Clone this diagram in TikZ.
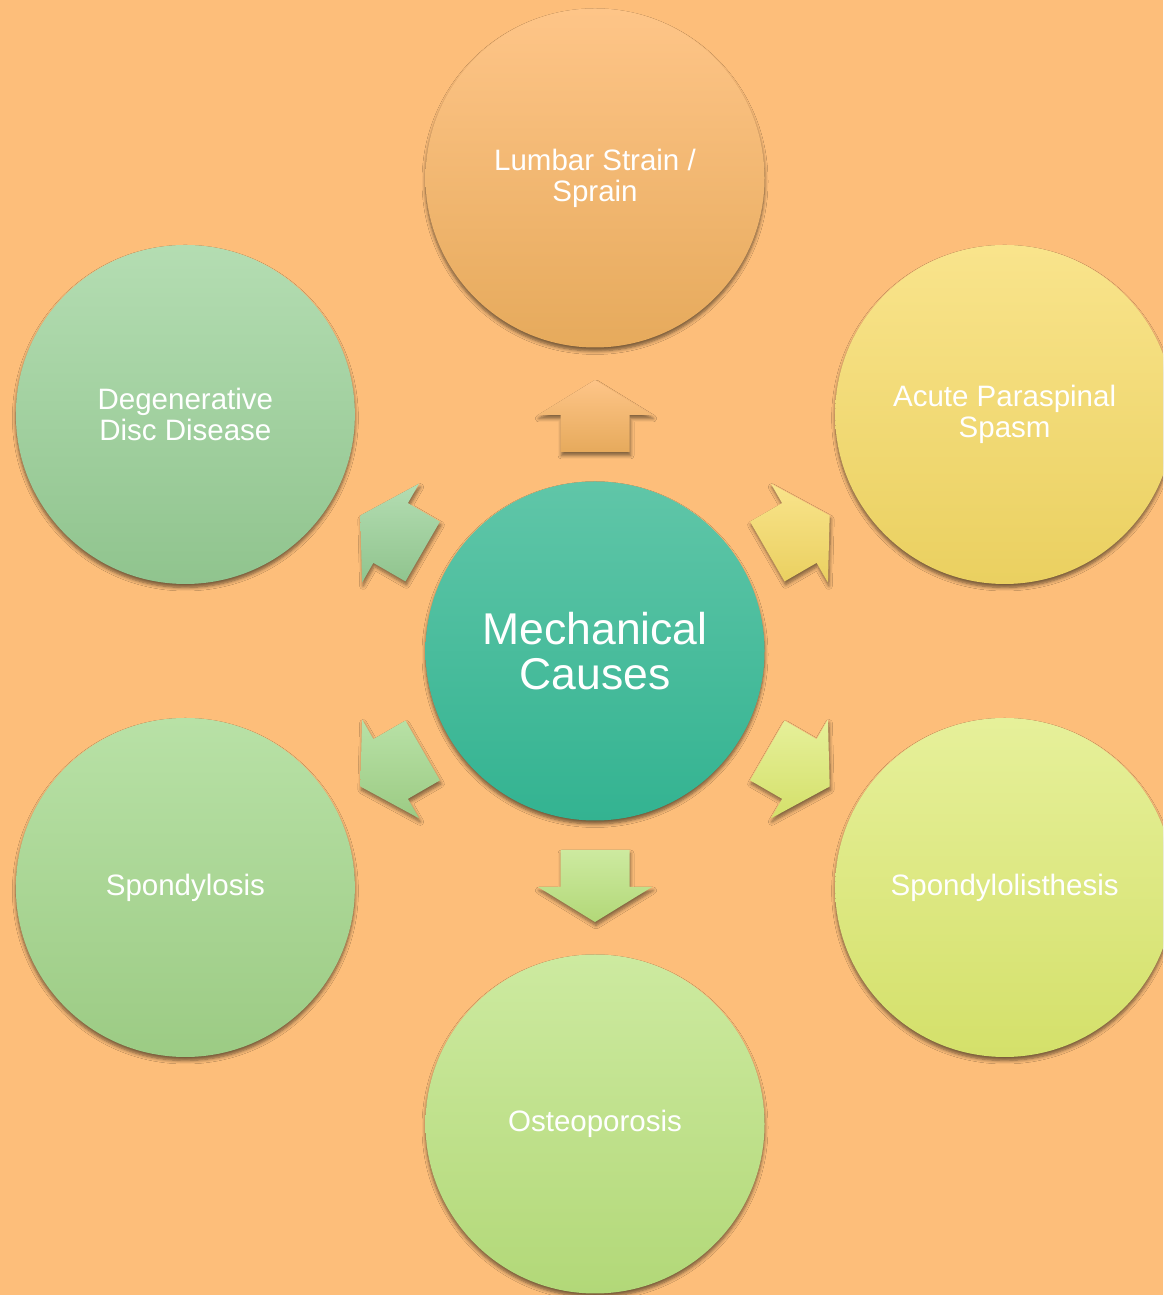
\documentclass[tikz,border=0pt]{standalone}
\usepackage{fontspec}
\setmainfont{Liberation Sans}
\usetikzlibrary{calc,shadows.blur}
\definecolor{bg}{RGB}{253,190,122}
\definecolor{orT}{RGB}{254,197,136}\definecolor{orB}{RGB}{230,170,92}
\definecolor{yeT}{RGB}{249,228,140}\definecolor{yeB}{RGB}{234,208,96}
\definecolor{liT}{RGB}{230,240,154}\definecolor{liB}{RGB}{212,224,106}
\definecolor{gbT}{RGB}{205,234,160}\definecolor{gbB}{RGB}{178,216,120}
\definecolor{glT}{RGB}{184,225,166}\definecolor{glB}{RGB}{156,203,132}
\definecolor{guT}{RGB}{180,221,178}\definecolor{guB}{RGB}{144,196,142}
\definecolor{teT}{RGB}{96,198,168}\definecolor{teB}{RGB}{51,179,145}
\newcommand\blockarrowshape[4]{%
  \path[arrowbox, top color=#3, bottom color=#4]
    ($(#1)+(#2:-36)+(#2+90:34.5)$) -- ($(#1)+(#2:1)+(#2+90:34.5)$) --
    ($(#1)+(#2:1)+(#2+90:57)$) -- ($(#1)+(#2:36)$) --
    ($(#1)+(#2:1)+(#2-90:57)$) -- ($(#1)+(#2:1)+(#2-90:34.5)$) --
    ($(#1)+(#2:-36)+(#2-90:34.5)$) -- cycle;}
\begin{document}
\begin{tikzpicture}[x=1pt,y=1pt,
  bubble/.style={circle, minimum size=339pt, inner sep=0pt, text=white, align=center,
    font=\fontsize{29.5}{31}\selectfont,
    blur shadow={shadow xshift=0pt, shadow yshift=-3.5pt, shadow blur radius=3.5pt, shadow blur steps=6, shadow opacity=55}},
  arrowbox/.style={blur shadow={shadow xshift=1pt, shadow yshift=-3.5pt, shadow blur radius=3.5pt, shadow blur steps=6, shadow opacity=50}}]
\useasboundingbox (0,0) rectangle (1163,1295);
\clip (0,0) rectangle (1163,1295);
\fill[bg] (0,0) rectangle (1163,1295);
\coordinate (o) at (595,644);
% outer bubbles
\node[bubble, top color=orT, bottom color=orB] (t) at ($(o)+(90:473)$) {Lumbar Strain /\\Sprain};
\node[bubble, top color=yeT, bottom color=yeB] (ur) at ($(o)+(30:473)$) {Acute Paraspinal\\Spasm};
\node[bubble, top color=liT, bottom color=liB] (lr) at ($(o)+(-30:473)$) {Spondylolisthesis};
\node[bubble, top color=gbT, bottom color=gbB] (b) at ($(o)+(-90:473)$) {Osteoporosis};
\node[bubble, top color=glT, bottom color=glB] (ll) at ($(o)+(210:473)$) {Spondylosis};
\node[bubble, top color=guT, bottom color=guB] (ul) at ($(o)+(150:473)$) {Degenerative\\Disc Disease};
% centre
\node[bubble, top color=teT, bottom color=teB, font=\fontsize{44.5}{45}\selectfont] (c) at (o) {Mechanical\\Causes};
% arrows
\coordinate (at) at ($(o)!235pt!(t)$);
\coordinate (aur) at ($(o)!235pt!(ur)$);
\coordinate (alr) at ($(o)!235pt!(lr)$);
\coordinate (ab) at ($(o)!235pt!(b)$);
\coordinate (all) at ($(o)!235pt!(ll)$);
\coordinate (aul) at ($(o)!235pt!(ul)$);
\blockarrowshape{at}{90}{orT}{orB}
\blockarrowshape{aur}{30}{yeT}{yeB}
\blockarrowshape{alr}{-30}{liT}{liB}
\blockarrowshape{ab}{-90}{gbT}{gbB}
\blockarrowshape{all}{210}{glT}{glB}
\blockarrowshape{aul}{150}{guT}{guB}
\end{tikzpicture}
\end{document}
